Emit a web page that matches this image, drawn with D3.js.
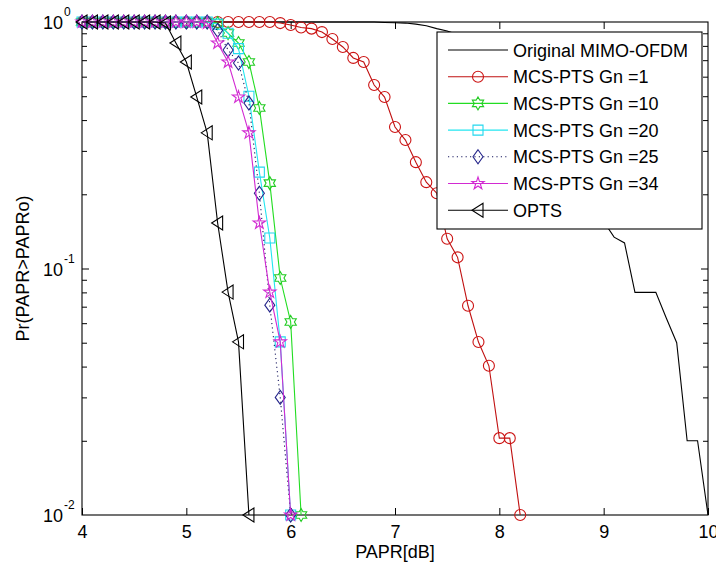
<!DOCTYPE html>
<html>
<head>
<meta charset="utf-8">
<script src="https://cdn.jsdelivr.net/npm/d3@7"></script>
<style>
  html, body { margin: 0; padding: 0; background: #fff; }
  svg { display: block; }
  text { font-family: "Liberation Sans", Arial, Helvetica, sans-serif; fill: #000; }
</style>
</head>
<body>
<svg id="chart" width="716" height="567"></svg>
<script>
// ---------------- data ----------------
const paprOriginal = [4.0,4.1,4.2,4.3,4.4,4.5,4.6,4.7,4.8,4.9,5.0,5.1,5.2,5.3,5.4,5.5,5.6,5.7,5.8,5.9,
  6.0,6.1,6.2,6.3,6.4,6.5,6.6,6.7,6.8,6.9,7.0,7.1,7.2,7.3,7.4,7.5,7.6,7.7,7.8,7.9,
  8.0,8.1,8.2,8.3,8.4,8.5,8.6,8.7,8.8,8.9,9.0,9.1,9.2,9.3,9.4,9.5,9.6,9.7,9.8,9.9,10.0];
const ccdfOriginal = [1,1,1,1,1,1,1,1,1,1,1,1,1,1,1,1,1,1,1,1,
  1,1,1,1,1,1,1,1,1,0.996,0.993,0.99,0.98,0.965,0.94,0.92,0.89,0.85,0.81,0.76,
  0.71,0.65,0.59,0.52,0.46,0.4,0.34,0.28,0.23,0.19,0.155,0.134,0.127,0.08,0.08,0.08,0.063,0.05,0.02,0.02,0.01];

const paprGn1 = [4.0,4.1,4.2,4.3,4.4,4.5,4.6,4.7,4.8,4.9,5.0,5.1,5.2,5.3,5.4,5.5,5.6,5.7,5.8,5.9,
  6.0,6.1,6.2,6.3,6.4,6.5,6.6,6.7,6.8,6.9,7.0,7.1,7.2,7.3,7.4,7.5,7.6,7.7,7.8,7.9,8.0,8.1,8.2];
const ccdfGn1 = [1,1,1,1,1,1,1,1,1,1,1,1,1,1,1,1,1,1,1,0.99,
  0.972,0.95,0.94,0.91,0.853,0.792,0.715,0.688,0.555,0.496,0.375,0.332,0.27,0.224,0.202,0.132,0.111,0.0706,0.0503,0.0403,0.0205,0.0205,0.01];

const paprGn10 = [4.0,4.1,4.2,4.3,4.4,4.5,4.6,4.7,4.8,4.9,5.0,5.1,5.2,5.3,5.4,5.5,5.6,5.7,5.8,5.9,6.0,6.1];
const ccdfGn10 = [1,1,1,1,1,1,1,1,1,1,1,1,1,0.99,0.902,0.822,0.688,0.448,0.222,0.0915,0.0607,0.01];

const paprGn20 = [4.0,4.1,4.2,4.3,4.4,4.5,4.6,4.7,4.8,4.9,5.0,5.1,5.2,5.3,5.4,5.5,5.6,5.7,5.8,5.9,6.0];
const ccdfGn20 = [1,1,1,1,1,1,1,1,1,1,1,1,1,0.98,0.9,0.78,0.5,0.246,0.133,0.0504,0.01];

const paprGn25 = [4.0,4.1,4.2,4.3,4.4,4.5,4.6,4.7,4.8,4.9,5.0,5.1,5.2,5.3,5.4,5.5,5.6,5.7,5.8,5.9,6.0];
const ccdfGn25 = [1,1,1,1,1,1,1,1,1,1,1,1,1,0.925,0.77,0.682,0.469,0.202,0.071,0.03,0.01];

const paprGn34 = [4.0,4.1,4.2,4.3,4.4,4.5,4.6,4.7,4.8,4.9,5.0,5.1,5.2,5.3,5.4,5.5,5.6,5.7,5.8,5.9,6.0];
const ccdfGn34 = [1,1,1,1,1,1,1,1,1,1,1,1,0.99,0.822,0.688,0.496,0.355,0.153,0.0802,0.0504,0.01];

const paprOPTS = [4.0,4.1,4.2,4.3,4.4,4.5,4.6,4.7,4.8,4.9,5.0,5.1,5.2,5.3,5.4,5.5,5.6];
const ccdfOPTS = [1,1,1,1,1,1,1,1,0.99,0.822,0.688,0.496,0.355,0.153,0.0802,0.0504,0.01];

const seriesNames = ["Original MIMO-OFDM","MCS-PTS Gn =1","MCS-PTS Gn =10","MCS-PTS Gn =20","MCS-PTS Gn =25","MCS-PTS Gn =34","OPTS"];
const xTicks = [4,5,6,7,8,9,10];
const yMajor = [1,0.1,0.01];
const yExponents = ["0","-1","-2"];
const xLabel = "PAPR[dB]";
const yLabel = "Pr(PAPR>PAPRo)";

// ---------------- layout ----------------
const svg = d3.select("#chart");
const L = 82, R = 708, T = 22, B = 515;
const x = d3.scaleLinear().domain([4,10]).range([L,R]);
const y = d3.scaleLog().domain([0.01,1]).range([B,T]);

const series = [
  {name: seriesNames[0], xs: paprOriginal, ys: ccdfOriginal, color: "#000", dash: null, marker: null, mcolor: "#000"},
  {name: seriesNames[1], xs: paprGn1, ys: ccdfGn1, color: "#c01010", dash: null, marker: "circle", mcolor: "#cc1414"},
  {name: seriesNames[2], xs: paprGn10, ys: ccdfGn10, color: "#22dd22", dash: null, marker: "hexagram", mcolor: "#22cc22"},
  {name: seriesNames[3], xs: paprGn20, ys: ccdfGn20, color: "#22e6f0", dash: null, marker: "square", mcolor: "#22d8ee"},
  {name: seriesNames[4], xs: paprGn25, ys: ccdfGn25, color: "#1a1a60", dash: "1.2,3.2", marker: "diamond", mcolor: "#24248a"},
  {name: seriesNames[5], xs: paprGn34, ys: ccdfGn34, color: "#d22ad2", dash: null, marker: "pentagram", mcolor: "#d22ad2"},
  {name: seriesNames[6], xs: paprOPTS, ys: ccdfOPTS, color: "#000", dash: null, marker: "triangleLeft", mcolor: "#000"}
];

function markerPath(type) {
  const p = d3.path();
  if (type === "circle") {
    p.arc(0,0,5.5,0,2*Math.PI);
  } else if (type === "square") {
    p.rect(-5,-5,10,10);
  } else if (type === "diamond") {
    p.moveTo(0,-7); p.lineTo(5,0); p.lineTo(0,7); p.lineTo(-5,0); p.closePath();
  } else if (type === "triangleLeft") {
    p.moveTo(-6,0); p.lineTo(5,-7); p.lineTo(5,7); p.closePath();
  } else if (type === "hexagram") {
    const r = 6.5, ri = r/Math.sqrt(3);
    for (let i = 0; i < 12; i++) {
      const a = -Math.PI/2 + i*Math.PI/6;
      const rr = (i % 2 === 0) ? r : ri;
      const px = rr*Math.cos(a), py = rr*Math.sin(a);
      if (i === 0) p.moveTo(px,py); else p.lineTo(px,py);
    }
    p.closePath();
  } else if (type === "pentagram") {
    const r = 6.5, ri = r*0.382;
    for (let i = 0; i < 10; i++) {
      const a = -Math.PI/2 + i*Math.PI/5;
      const rr = (i % 2 === 0) ? r : ri;
      const px = rr*Math.cos(a), py = rr*Math.sin(a);
      if (i === 0) p.moveTo(px,py); else p.lineTo(px,py);
    }
    p.closePath();
  }
  return p.toString();
}

// ---------------- axes box and ticks ----------------
const axisG = svg.append("g");
axisG.append("rect").attr("x",L).attr("y",T).attr("width",R-L).attr("height",B-T)
  .attr("fill","none").attr("stroke","#000").attr("stroke-width",1.1);

// x ticks bottom and top (inward)
const xAxisB = d3.axisBottom(x).tickValues(xTicks).tickSizeInner(-7).tickSizeOuter(0).tickPadding(10).tickFormat(d3.format("d"));
const gxb = axisG.append("g").attr("transform",`translate(0,${B})`).call(xAxisB);
gxb.select(".domain").remove();
gxb.selectAll("text").style("font-size","18px").attr("font-family",null).attr("fill","#000");
gxb.selectAll("line").attr("stroke","#000");
const xAxisT = d3.axisTop(x).tickValues(xTicks.slice(1,-1)).tickSizeInner(-7).tickSizeOuter(0).tickFormat("");
const gxt = axisG.append("g").attr("transform",`translate(0,${T})`).call(xAxisT);
gxt.select(".domain").remove();
gxt.selectAll("line").attr("stroke","#000");

// y minor ticks
const minorVals = [];
[0.01,0.1].forEach(d => { for (let k = 2; k <= 9; k++) minorVals.push(+(d*k).toFixed(4)); });
const yAxisLMinor = d3.axisLeft(y).tickValues(minorVals).tickSizeInner(-5).tickSizeOuter(0).tickFormat("");
const gylm = axisG.append("g").attr("transform",`translate(${L},0)`).call(yAxisLMinor);
gylm.select(".domain").remove();
const yAxisRMinor = d3.axisRight(y).tickValues(minorVals).tickSizeInner(-5).tickSizeOuter(0).tickFormat("");
const gyrm = axisG.append("g").attr("transform",`translate(${R},0)`).call(yAxisRMinor);
gyrm.select(".domain").remove();
const yAxisRMajor = d3.axisRight(y).tickValues([0.1]).tickSizeInner(-7).tickSizeOuter(0).tickFormat("");
const gyrM = axisG.append("g").attr("transform",`translate(${R},0)`).call(yAxisRMajor);
gyrM.select(".domain").remove();
const yAxisLMajor = d3.axisLeft(y).tickValues([0.1]).tickSizeInner(-7).tickSizeOuter(0).tickFormat("");
const gylM = axisG.append("g").attr("transform",`translate(${L},0)`).call(yAxisLMajor);
gylM.select(".domain").remove();
axisG.selectAll("line").attr("stroke","#000");

// y tick labels 10^n
yMajor.forEach((v,i) => {
  svg.append("text").attr("x",63).attr("y",y(v)+7).attr("text-anchor","end")
    .style("font-size","18px").text("10");
  svg.append("text").attr("x",64).attr("y",y(v)-6).style("font-size","12px").text(yExponents[i]);
});

// axis labels
svg.append("text").attr("x",(L+R)/2).attr("y",558).attr("text-anchor","middle")
  .style("font-size","18px").text(xLabel);
svg.append("text").attr("transform",`translate(29,${(T+B)/2}) rotate(-90)`).attr("text-anchor","middle")
  .style("font-size","18px").text(yLabel);

// ---------------- series ----------------
const line = d3.line().x(d => x(d[0])).y(d => y(d[1]));
series.forEach(s => {
  const pts = s.xs.map((v,i) => [v, s.ys[i]]);
  const g = svg.append("g");
  g.append("path").attr("d", line(pts)).attr("fill","none")
    .attr("stroke", s.color).attr("stroke-width",1.1)
    .attr("stroke-dasharray", s.dash);
  if (s.marker) {
    const mp = markerPath(s.marker);
    g.selectAll("path.m").data(pts).enter().append("path").attr("class","m")
      .attr("d", mp).attr("transform", d => `translate(${x(d[0])},${y(d[1])})`)
      .attr("fill","none").attr("stroke", s.mcolor).attr("stroke-width",1.1);
  }
});

// ---------------- legend ----------------
const lg = svg.append("g");
const lgX = 437, lgY = 32, lgW = 265, lgH = 197;
lg.append("rect").attr("x",lgX).attr("y",lgY).attr("width",lgW).attr("height",lgH)
  .attr("fill","#fff").attr("stroke","#000").attr("stroke-width",1.1);
series.forEach((s,i) => {
  const cy = 50 + i*26.7;
  lg.append("line").attr("x1",448).attr("x2",508).attr("y1",cy).attr("y2",cy)
    .attr("stroke", s.color).attr("stroke-width",1.1).attr("stroke-dasharray", s.dash);
  if (s.marker) {
    lg.append("path").attr("d", markerPath(s.marker)).attr("transform",`translate(478,${cy})`)
      .attr("fill","none").attr("stroke", s.mcolor).attr("stroke-width",1.1);
  }
  lg.append("text").attr("x",513).attr("y",cy+6.5).style("font-size","18px").text(s.name);
});
</script>
</body>
</html>
